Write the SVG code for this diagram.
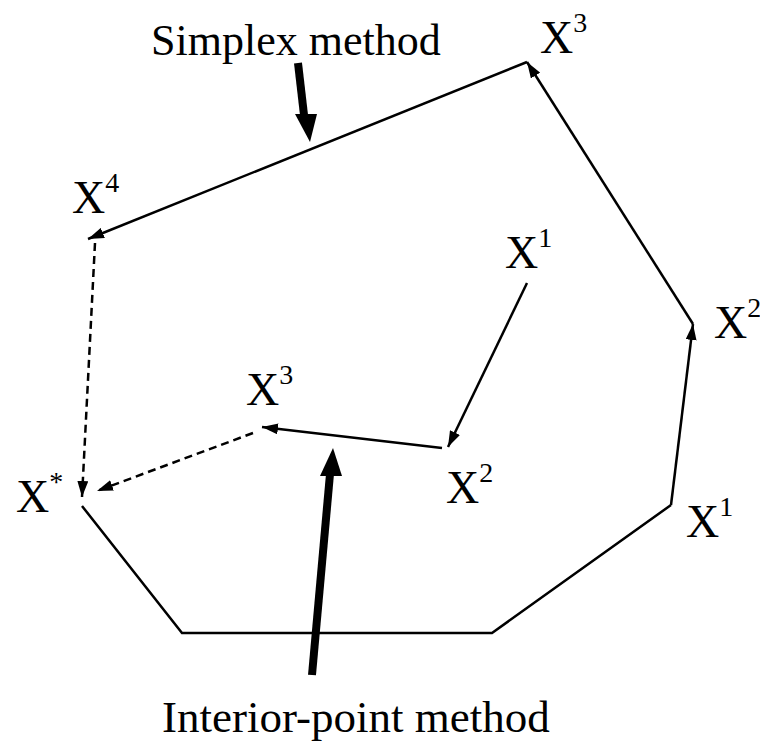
<svg xmlns="http://www.w3.org/2000/svg" width="760" height="747" viewBox="0 0 760 747">
<style>
  .lbl { font-family: "Liberation Serif", "Times New Roman", serif; font-size: 46px; fill: #000; }
  .sup { font-size: 28px; }
  .title { font-family: "Liberation Serif", "Times New Roman", serif; font-size: 44px; fill: #000; }
  .edge { fill: none; stroke: #000; stroke-width: 2.5; }
  .dash { fill: none; stroke: #000; stroke-width: 2.5; stroke-dasharray: 8 5; }
  .thick { fill: none; stroke: #000; stroke-width: 8; }
</style>
<defs>
  <marker id="ah" markerUnits="userSpaceOnUse" markerWidth="16" markerHeight="11" refX="16" refY="5.5" orient="auto">
    <path d="M0,0 L16,5.5 L0,11 z" fill="#000"/>
  </marker>
</defs>
<rect width="760" height="747" fill="#fff"/>
<g id="connectors">
  <path class="edge" d="M82,506 L182,633 L492,633 L671,505"/>
  <line class="edge" x1="671" y1="505" x2="693" y2="324" marker-end="url(#ah)"/>
  <line class="edge" x1="693" y1="324" x2="527" y2="62" marker-end="url(#ah)"/>
  <line class="edge" x1="527" y1="62" x2="88" y2="239" marker-end="url(#ah)"/>
  <line class="dash" x1="95" y1="243" x2="82" y2="497" marker-end="url(#ah)"/>
  <line class="edge" x1="527" y1="283" x2="448" y2="447" marker-end="url(#ah)"/>
  <line class="edge" x1="442" y1="448" x2="262" y2="427" marker-end="url(#ah)"/>
  <line class="dash" x1="253" y1="433" x2="97" y2="491" marker-end="url(#ah)"/>
  <line class="thick" x1="298" y1="63" x2="304" y2="115"/>
  <path d="M295,114 L317,114 L310,142 z" fill="#000"/>
  <line class="thick" x1="312" y1="675" x2="330" y2="474"/>
  <path d="M320,476 L342,476 L333,448 z" fill="#000"/>
</g>
<g id="simplex-label"><text class="title" x="151" y="55">Simplex method</text></g>
<g id="interior-label"><text class="title" x="162" y="732" style="font-size:45px">Interior-point method</text></g>
<g id="s-x3"><text class="lbl" x="540" y="53">X<tspan class="sup" dy="-21">3</tspan></text></g>
<g id="s-x4"><text class="lbl" x="72" y="213">X<tspan class="sup" dy="-21">4</tspan></text></g>
<g id="x-star"><text class="lbl" x="16" y="512">X<tspan class="sup" dy="-21">*</tspan></text></g>
<g id="s-x2"><text class="lbl" x="714" y="338">X<tspan class="sup" dy="-21">2</tspan></text></g>
<g id="s-x1"><text class="lbl" x="686" y="537">X<tspan class="sup" dy="-21">1</tspan></text></g>
<g id="i-x1"><text class="lbl" x="505" y="268">X<tspan class="sup" dy="-21">1</tspan></text></g>
<g id="i-x2"><text class="lbl" x="446" y="503">X<tspan class="sup" dy="-21">2</tspan></text></g>
<g id="i-x3"><text class="lbl" x="246" y="405">X<tspan class="sup" dy="-21">3</tspan></text></g>
</svg>
